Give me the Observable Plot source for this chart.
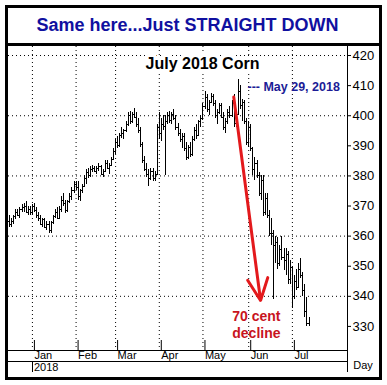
<!DOCTYPE html>
<html><head><meta charset="utf-8">
<script src="https://cdn.jsdelivr.net/npm/d3@7"></script>
<script src="https://cdn.jsdelivr.net/npm/@observablehq/plot@0.6"></script>
<style>
body{margin:0;background:#fff;}
#box{position:absolute;left:5px;top:5px;width:377px;height:375px;box-sizing:border-box;border:3px solid #000;background:#fff;}
#title{height:35px;border-bottom:3px solid #000;font:bold 18px "Liberation Sans",Arial,sans-serif;color:#1010a0;text-align:center;line-height:35px;padding-right:12px;white-space:nowrap;}
#chart svg{display:block;}
</style></head><body>
<div id="box"><div id="title">Same here...Just STRAIGHT DOWN</div><div id="chart"></div></div>
<script>
const chartTitle = "July 2018 Corn";
const monthLabels = ["Jan","Feb","Mar","Apr","May","Jun","Jul"];
const monthStart = [11,32,51,72,93,115,136];   // trading-day index of first bar in each month
const yearLabel = "2018";
const yTicks = [330,340,350,360,370,380,390,400,410,420];
const gridY = [340,360,380,400,420];

// Daily OHLC, trading days Dec 14 2017 .. Jul 13 2018
const opens = [
 365,364,365,366.5,368,367,369,369.5,370,368,369,
 368,370,368.5,367,366,364,365.5,363,364,362,364.5,366.5,368,366,369,372,371,368.5,371.5,373,375,
 377,376,373,375,376.5,379,381,380,382,382.5,381.5,382.5,383,380.5,381.5,384,382.5,383.5,385.5,
 388,391,390,393.5,394,395,397,400,398,400.5,399.5,397,395,390.5,385,382,380.5,379,381.5,379,380.5,
 396,394,397,396.5,398,400,398.5,400.5,399,396,394,392,393,389,386,389.5,387,392,395,393.5,398,
 399,403,406,402,404.5,406.5,404,400,401,403.5,399.5,396,398,401,400,404,397.5,400.5,408,403.5,404.5,398,
 391,396,389,382,384,380,374,378.5,368,372.5,367,361,361,357,358,351,355.5,353,352,354,345.5,
 349.5,340,345,343,349,347,342,335,331
];
const highs = [
 367,366,367,369,369,369.5,370.5,371,371.5,370,370,
 370.5,371,369.5,368,367,366,366,365,365,365,367,369,369.5,370,373,374,372,372,374,376,378,
 378,378,375.5,377,380,382,382.5,383,383.5,383,383,384,383.5,382,385,385,384,386,389,
 392,393,394,396,395.5,398,401,401.5,401,402.5,401,399,396,391,386.5,384,382,382.5,382.5,381.5,397,
 401,399,400,400,401,401.5,401,402,400,397.5,395.5,394,394,391,390,391,393,396,397,398.5,400,
 404,408,407,405,407.5,407,405,402,404,404,401,399,402,403,405,407,401,412,410,405.5,405,399,
 398,397,389.5,386,385,381,380,380,374,374,368.5,366,362,360,359.5,357,360,356,356,355,352,
 350,347,349,351,352.5,348,344,339.5,333
];
const lows = [
 363,363,364,365.5,366.5,366,368,368,367.5,367,367,
 367,368,366,365,363.5,363,362.5,362,361,361,364,366,365.5,365.5,368,370,367.5,368,371,372,374,
 375,372,371.5,374,376,377,379,379.5,381,381,380.5,381.5,380,379.5,381,382,380.5,383,385,
 387,389,389.5,392.5,392,394.5,396.5,397,397.5,399,396,394,389.5,384,381.5,379.5,376.5,378.5,378,378,380,
 392,391.5,395,380,397,397.5,397,398.5,395,393,391,389,388,385,385.5,386,386.5,391.5,392,393,396,
 398.5,402,401,400,404,403,399,397,400.5,399,395,394,397,399,399.5,396,396,400,402,398,397,390,
 389.5,388,380,378.5,379,373,372,366.5,367,366,360,357,339,351,349,350,352,348.5,347,344,344,
 336,339,342,342.5,346,340,333,330,330
];
const closes = [
 364,365,366.5,368,367,369,369.5,370,368,369,368,
 370,368.5,367,366,364,365.5,363,364,362,364.5,366.5,368,366,369,372,371,368.5,371.5,373,375,377,
 376,373,375,376.5,379,381,380,382,382.5,381.5,382.5,383,380.5,381.5,384,382.5,383.5,385.5,388,
 391,390,393.5,394,395,397,400,398,400.5,399.5,397,395,390.5,385,382,380.5,379,381.5,379,380.5,396,
 394,397,396.5,398,400,398.5,400.5,399,396,394,392,393,389,386,389.5,387,392,395,393.5,398,399,
 403,406,402,404.5,406.5,404,400,401,403.5,399.5,396,398,401,400,404,397.5,400.5,408,403.5,404.5,398,391,
 396,389,382,384,380,374,378.5,368,372.5,367,361,361,357,358,351,355.5,353,352,354,345.5,349.5,
 340,345,343,349,347,342,335,331,332
];

// annotations
const peakLabel = "--- May 29, 2018";
const peakLabelPos = {x: 114.4, y: 409.5};
const arrowSeg = [{x1: 107.8, y1: 406.2, x2: 120.7, y2: 338.6}];
const declineNote = "70 cent\ndecline";
const declinePos = {x: 118.7, y: 330.8};

const bars = highs.map((h, i) => ({i, open: opens[i], high: h, low: lows[i], close: closes[i]}));
const font = '"Liberation Sans", Arial, sans-serif';

const chart = Plot.plot({
  width: 371, height: 331,
  marginLeft: 0, marginRight: 32, marginTop: 0, marginBottom: 27,
  style: {fontFamily: font, background: "#fff", color: "#000", overflow: "visible"},
  x: {domain: [-0.5, 162.5], axis: null},
  y: {domain: [322, 423], axis: null},
  marks: [
    Plot.ruleY(gridY, {stroke: "#000", strokeDasharray: "1,3", strokeOpacity: 1}),
    Plot.ruleX(monthStart, {stroke: "#000", strokeDasharray: "1,3", strokeOpacity: 1}),
    Plot.text([chartTitle], {frameAnchor: "top", dx: 24.5, dy: 11, fontSize: 16, fontWeight: "bold", fill: "#000", stroke: "#fff", strokeWidth: 7, paintOrder: "stroke"}),
    Plot.ruleX(bars, {x: "i", y1: "low", y2: "high", stroke: "#000", shapeRendering: "crispEdges"}),
    Plot.link(bars, {x1: d => d.i - 0.6, x2: "i", y1: "open", y2: "open", stroke: "#000", shapeRendering: "crispEdges"}),
    Plot.link(bars, {x1: "i", x2: d => d.i + 0.6, y1: "close", y2: "close", stroke: "#000", shapeRendering: "crispEdges"}),
    Plot.ruleY([322], {stroke: "#000"}),
    Plot.ruleX([162.5], {stroke: "#000"}),
    Plot.axisY({anchor: "right", ticks: yTicks, tickSize: 3, tickPadding: 2, fontSize: 13, label: null, stroke: "#000"}),
    Plot.axisX({ticks: monthStart, tickFormat: d => monthLabels[monthStart.indexOf(d)], tickSize: 11, tickPadding: 0, textAnchor: "start", dx: 2, dy: -10, fontSize: 11, label: null, stroke: "#000"}),
    Plot.text([peakLabel], {x: peakLabelPos.x, y: peakLabelPos.y, textAnchor: "start", fontSize: 12.5, fontWeight: "bold", fill: "#1c1c96"}),
    Plot.arrow(arrowSeg, {x1: "x1", y1: "y1", x2: "x2", y2: "y2", stroke: "#e3191c", strokeWidth: 3, headLength: 12, headAngle: 50}),
    Plot.text([declineNote], {x: declinePos.x, y: declinePos.y, fontSize: 14, fontWeight: "bold", fill: "#c8141e", lineHeight: 1.2})
  ]
});
document.getElementById("chart").appendChild(chart);

// x-axis band furniture: second row (year) and the extended y-axis line
const xs = chart.scale("x");
const svg = d3.select(chart);
const g = svg.append("g").attr("stroke", "#000").attr("fill", "none");
g.append("line").attr("x1", 0).attr("x2", 339).attr("y1", 315.5).attr("y2", 315.5);
g.append("line").attr("x1", 339.5).attr("x2", 339.5).attr("y1", 304).attr("y2", 326);
const janX = Math.round(xs.apply(monthStart[0])) + 0.5;
g.append("line").attr("x1", janX).attr("x2", janX).attr("y1", 315).attr("y2", 326);
svg.append("text").attr("x", janX + 1.5).attr("y", 321).attr("dy", "0.35em").attr("text-anchor", "start")
  .attr("font-size", 11).attr("font-family", font).text(yearLabel);
svg.append("text").attr("x", 355).attr("y", 319).attr("dy", "0.35em").attr("text-anchor", "middle")
  .attr("font-size", 11).attr("font-family", font).text("Day");
</script>
</body></html>
